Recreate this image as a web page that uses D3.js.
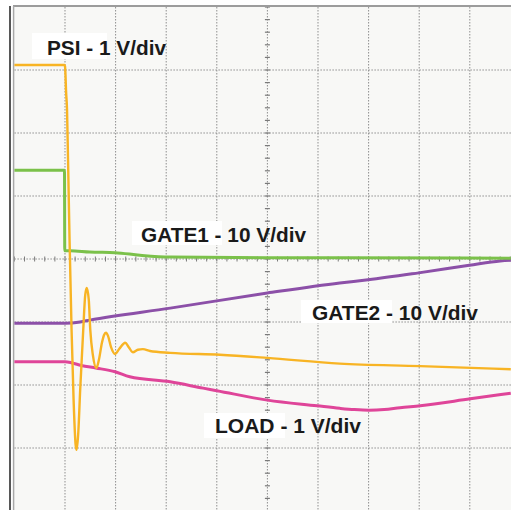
<!DOCTYPE html>
<html><head><meta charset="utf-8">
<script src="https://cdn.jsdelivr.net/npm/d3@7"></script>
<style>html,body{margin:0;padding:0;background:#fff;}svg{display:block;}</style>
</head><body>
<script>
// Data in scope divisions: t = horizontal division (0..10), v = vertical division (-4..4, 0 = centre)
const psiT  = [0,0.99,1.00,1.01,1.02,1.04,1.06,1.09,1.13,1.17,1.21,1.23,1.26,1.30,1.36,1.40,1.43,1.47,1.50,1.55,1.62,1.67,1.73,1.77,1.81,1.85,1.91,1.99,2.07,2.19,2.26,2.34,2.44,2.54,2.68,3.08,4.06,5.00,6.43,8.02,9.81];
const psiV  = [3.08,3.08,3.06,2.92,2.68,2.37,1.57,0.30,-1.13,-2.24,-2.95,-3.03,-2.79,-2.08,-1.13,-0.57,-0.46,-0.65,-1.13,-1.52,-1.73,-1.60,-1.33,-1.21,-1.17,-1.22,-1.40,-1.51,-1.43,-1.33,-1.40,-1.48,-1.44,-1.43,-1.46,-1.49,-1.52,-1.57,-1.66,-1.70,-1.75];
const gate1T = [0,0.99,0.995,1.10,1.49,1.99,2.48,3.08,5.00,6.43,9.81];
const gate1V = [1.41,1.41,0.13,0.13,0.11,0.10,0.06,0.03,0.02,0.02,0.01];
const gate2T = [0,1.00,1.30,1.49,3.08,5.00,6.43,6.99,7.99,8.99,9.60,9.81];
const gate2V = [-1.02,-1.02,-1.00,-0.97,-0.78,-0.54,-0.38,-0.33,-0.22,-0.10,-0.03,-0.02];
const loadT = [0,1.00,1.14,1.32,1.61,1.99,2.28,3.08,3.73,4.00,5.00,5.98,6.43,6.72,7.01,7.31,7.62,8.02,9.01,9.81];
const loadV = [-1.63,-1.63,-1.65,-1.69,-1.73,-1.79,-1.87,-1.95,-2.05,-2.09,-2.24,-2.33,-2.37,-2.39,-2.40,-2.39,-2.36,-2.33,-2.22,-2.13];
const labels = ["PSI - 1 V/div","GATE1 - 10 V/div","GATE2 - 10 V/div","LOAD - 1 V/div"];
const colors = ["#f8b424","#7bc14a","#8c50a8","#df4599"];

const W = 511, H = 510;
const svg = d3.select("body").append("svg").attr("width",W).attr("height",H);
const x = d3.scaleLinear().domain([0,10]).range([14.4,520.4]);
const y = d3.scaleLinear().domain([4,-4]).range([7,511]);

// background
svg.append("rect").attr("x",x(0)).attr("y",y(4)).attr("width",W-x(0)).attr("height",H-y(4)).attr("fill","#f8f8f6");

// grid
const g = svg.append("g");
d3.range(1,10).forEach(i=>{
  g.append("line").attr("x1",x(i)).attr("x2",x(i)).attr("y1",y(4)).attr("y2",H)
   .attr("stroke","#8f8f8f").attr("stroke-width",1).attr("stroke-dasharray","1.5,1.5");
});
d3.range(-3,4).forEach(j=>{
  g.append("line").attr("x1",x(0)).attr("x2",W).attr("y1",y(j)).attr("y2",y(j))
   .attr("stroke","#8f8f8f").attr("stroke-width",1).attr("stroke-dasharray","1.5,1.5");
});
// minor ticks on centre lines
d3.range(0,10.01,0.2).forEach(t=>{
  g.append("line").attr("x1",x(t)).attr("x2",x(t)).attr("y1",y(0)-2.5).attr("y2",y(0)+2.5)
   .attr("stroke","#7a7a7a").attr("stroke-width",1);
});
d3.range(-4,4.01,0.2).forEach(v=>{
  g.append("line").attr("x1",x(5)-2.5).attr("x2",x(5)+2.5).attr("y1",y(v)).attr("y2",y(v))
   .attr("stroke","#7a7a7a").attr("stroke-width",1.2);
});

// frame
svg.append("line").attr("x1",13).attr("x2",W).attr("y1",6).attr("y2",6).attr("stroke","#9c9c9c").attr("stroke-width",2);
svg.append("line").attr("x1",10).attr("x2",10).attr("y1",6).attr("y2",H).attr("stroke","#2e2e2e").attr("stroke-width",1.6);
svg.append("line").attr("x1",13.6).attr("x2",13.6).attr("y1",6).attr("y2",H).attr("stroke","#a8a8a8").attr("stroke-width",1.5);

// traces
const line = d3.line().x(d=>x(d[0])).y(d=>y(d[1])).curve(d3.curveMonotoneX);
const traces = [
  {t:psiT, v:psiV, c:colors[0], w:2.4},
  {t:gate1T, v:gate1V, c:colors[1], w:3},
  {t:gate2T, v:gate2V, c:colors[2], w:3},
  {t:loadT, v:loadV, c:colors[3], w:3}
];
[traces[2], traces[1], traces[3], traces[0]].forEach(tr=>{
  svg.append("path").datum(d3.zip(tr.t, tr.v)).attr("d",line)
    .attr("fill","none").attr("stroke",tr.c).attr("stroke-width",tr.w)
    .attr("stroke-linejoin","round");
});

// labels
const lab = [
  {i:0, bx:32, by:33, bw:75, bh:26, tx:47, ty:55, tw:119},
  {i:1, bx:132, by:221, bw:90, bh:24, tx:141, ty:241.5, tw:165},
  {i:2, bx:301, by:300, bw:91, bh:23, tx:312, ty:320, tw:166},
  {i:3, bx:204, by:413, bw:81, bh:25, tx:215, ty:433.3, tw:146}
];
lab.forEach(l=>{
  svg.append("rect").attr("x",l.bx).attr("y",l.by).attr("width",l.bw).attr("height",l.bh).attr("fill","#ffffff");
  svg.append("text").attr("x",l.tx).attr("y",l.ty).text(labels[l.i])
    .attr("font-family","Liberation Sans, Arial, sans-serif").attr("font-weight","bold")
    .attr("font-size",19.5).attr("fill","#1a1a1a")
    .attr("textLength",l.tw).attr("lengthAdjust","spacingAndGlyphs");
});
</script>
</body></html>
